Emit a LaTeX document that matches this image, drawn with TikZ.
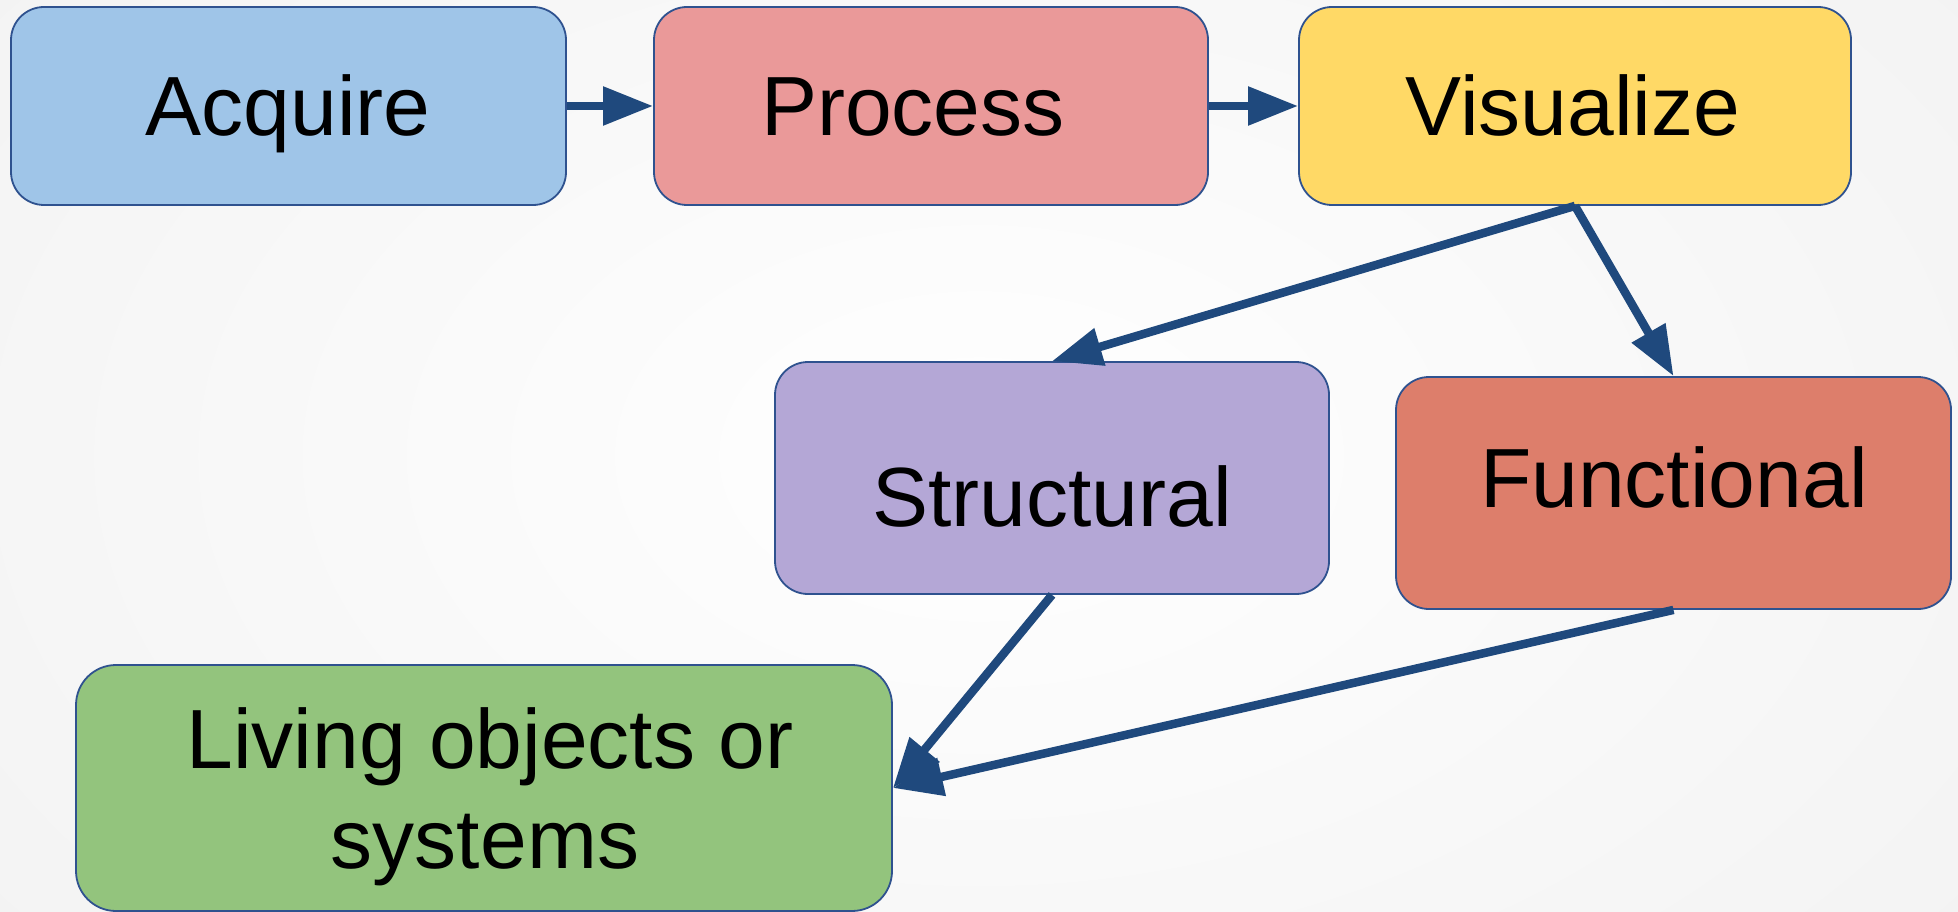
\documentclass[tikz,border=0pt]{standalone}
\usepackage{fontspec}
\setmainfont{Liberation Sans}
\usetikzlibrary{arrows.meta}
\definecolor{bgray}{HTML}{ECECEC}
\definecolor{cacq}{HTML}{9FC5E8}
\definecolor{cproc}{HTML}{EA9999}
\definecolor{cvis}{HTML}{FFD966}
\definecolor{cstr}{HTML}{B4A7D6}
\definecolor{cfun}{HTML}{DD7E6B}
\definecolor{cliv}{HTML}{93C47D}
\definecolor{cedge}{HTML}{2F528F}
\definecolor{carrow}{HTML}{1F497D}
\begin{document}
\begin{tikzpicture}[x=1pt,y=-1pt,
  box/.style={rectangle, draw=cedge, line width=1.8pt, rounded corners=33pt, inner sep=0pt},
  lbl/.style={anchor=base, font=\fontsize{84pt}{100pt}\selectfont, inner sep=0pt},
  conn/.style={draw=carrow, line width=8.5pt, -{Triangle[length=50pt,width=37pt]}}]
\useasboundingbox (0,0) rectangle (1958,912);
\begin{scope}
\clip (0,0) rectangle (1958,912);
\shade[inner color=white, outer color=bgray] (-1000,-800) rectangle (2958,1712);
\end{scope}
\node[box, fill=cacq, minimum width=555pt, minimum height=198pt] (acq) at (288.5,106) {};
\node[box, fill=cproc, minimum width=554pt, minimum height=198pt] (proc) at (931,106) {};
\node[box, fill=cvis, minimum width=552pt, minimum height=198pt] (vis) at (1575,106) {};
\node[box, fill=cstr, minimum width=554pt, minimum height=232pt] (str) at (1052,478) {};
\node[box, fill=cfun, minimum width=555pt, minimum height=232pt] (fun) at (1673.5,493) {};
\node[box, fill=cliv, minimum width=816pt, minimum height=246pt, rounded corners=40pt] (liv) at (484,788) {};
\node[lbl] (tacq) at (288,136) {Acquire};
\node[lbl] (tproc) at (913,136) {Process};
\node[lbl] (tvis) at (1573,136) {Visualize};
\node[lbl] (tstr) at (1052,526) {Structural};
\node[lbl] (tfun) at (1674,507) {Functional};
\node[lbl] (tliv1) at (490,768) {Living objects or};
\node[lbl] (tliv2) at (485,868) {systems};
\draw[conn] (acq.east) -- (proc.west);
\draw[conn] (proc.east) -- (vis.west);
\draw[conn] (vis.south) -- (str.north);
\draw[conn] (vis.south) -- (fun.north);
\draw[conn] (str.south) -- (liv.east);
\draw[conn] (fun.south) -- (liv.east);
\end{tikzpicture}
\end{document}
